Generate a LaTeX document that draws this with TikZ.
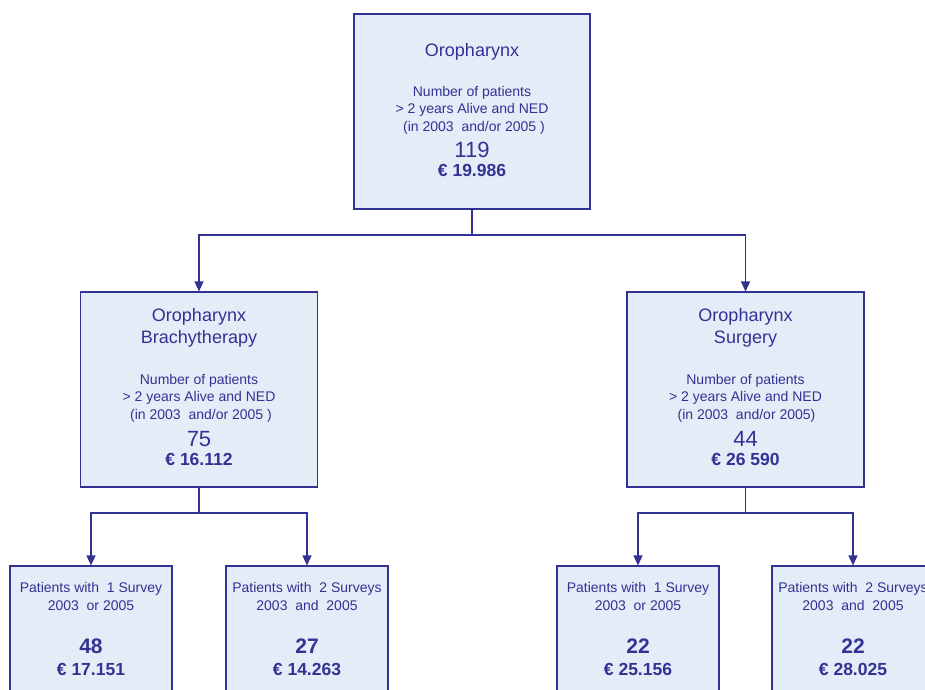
\documentclass[tikz,border=0pt]{standalone}
\usepackage{fontspec}
\setmainfont{Liberation Sans}
\usetikzlibrary{arrows.meta}
\definecolor{ink}{RGB}{50,50,148}
\definecolor{boxfill}{RGB}{228,236,247}
\tikzset{
  box/.style={draw=ink, fill=boxfill, line width=1.1pt, inner sep=0pt, rectangle},
  midbox/.style={box, minimum width=237pt, minimum height=195pt},
  lowbox/.style={box, minimum width=162pt, minimum height=150pt},
  tl/.style={anchor=base, inner sep=0pt, text=ink},
  ttl/.style={tl, font=\fontsize{18}{20}\selectfont},
  txt/.style={tl, font=\fontsize{14}{16}\selectfont},
  num/.style={tl, font=\fontsize{22}{24}\selectfont},
  bnum/.style={tl, font=\fontsize{21}{24}\selectfont\bfseries},
  eur/.style={tl, font=\fontsize{17.5}{20}\selectfont\bfseries},
  conn/.style={draw=ink, line width=1.1pt},
  arr/.style={conn, -{Triangle[length=10pt,width=9pt]}}
}
\begin{document}
\begin{tikzpicture}[x=1pt,y=-1pt]
\useasboundingbox (0,0) rectangle (925,689);
\clip (0,0) rectangle (925,689);
% boxes
\node[box, minimum width=236pt, minimum height=195pt] (top) at (472,111.5) {};
\node[midbox] (lm) at (199,389.5) {};
\node[midbox] (rm) at (745.5,389.5) {};
\node[lowbox] (b1) at (91,641) {};
\node[lowbox] (b2) at (307,641) {};
\node[lowbox] (b3) at (638,641) {};
\node[lowbox] (b4) at (853,641) {};
% connectors
\coordinate (j1) at (472,235);
\coordinate (j2) at (199,513);
\coordinate (j3) at (745.5,513);
\draw[conn] (top.south) -- (j1);
\draw[arr] (j1) -| (lm.north);
\draw[arr] (j1) -| (rm.north);
\draw[conn] (lm.south) -- (j2);
\draw[arr] (j2) -| (b1.north);
\draw[arr] (j2) -| (b2.north);
\draw[conn] (rm.south) -- (j3);
\draw[arr] (j3) -| (b3.north);
\draw[arr] (j3) -| (b4.north);
% top box text
\node[ttl] (t1) at (472,56.7) {Oropharynx};
\node[txt] (t2) at (472,96.7) {Number of patients};
\node[txt] (t3) at (472,113.5) {> 2 years Alive and NED};
\node[txt] (t4) at (474,131.5) {(in 2003 \ and/or 2005 )};
\node[num] (t5) at (472,157.7) {119};
\node[eur] (t6) at (472,176.7) {€ 19.986};
% left mid text
\node[ttl] (l1) at (199,321.7) {Oropharynx};
\node[ttl] (l2) at (199,343.3) {Brachytherapy};
\node[txt] (l3) at (199,384.3) {Number of patients};
\node[txt] (l4) at (199,401.7) {> 2 years Alive and NED};
\node[txt] (l5) at (201,419.3) {(in 2003 \ and/or 2005 )};
\node[num] (l6) at (199,446.7) {75};
\node[eur] (l7) at (199,465) {€ 16.112};
% right mid text
\node[ttl] (r1) at (745.5,321.7) {Oropharynx};
\node[ttl] (r2) at (745.5,343.3) {Surgery};
\node[txt] (r3) at (745.5,384.3) {Number of patients};
\node[txt] (r4) at (745.5,401.7) {> 2 years Alive and NED};
\node[txt] (r5) at (746.5,419.3) {(in 2003 \ and/or 2005)};
\node[num] (r6) at (745.5,446.7) {44};
\node[eur] (r7) at (745.5,465) {€ 26 590};
% bottom texts
\node[txt] (a1) at (91,592.7) {Patients with \ 1 Survey};
\node[txt] (a2) at (91,610) {2003 \ or 2005};
\node[bnum] (a3) at (91,653.3) {48};
\node[eur] (a4) at (91,675) {€ 17.151};
\node[txt] (c1) at (307,592.7) {Patients with \ 2 Surveys};
\node[txt] (c2) at (307,610) {2003 \ and \ 2005};
\node[bnum] (c3) at (307,653.3) {27};
\node[eur] (c4) at (307,675) {€ 14.263};
\node[txt] (d1) at (638,592.7) {Patients with \ 1 Survey};
\node[txt] (d2) at (638,610) {2003 \ or 2005};
\node[bnum] (d3) at (638,653.3) {22};
\node[eur] (d4) at (638,675) {€ 25.156};
\node[txt] (e1) at (853,592.7) {Patients with \ 2 Surveys};
\node[txt] (e2) at (853,610) {2003 \ and \ 2005};
\node[bnum] (e3) at (853,653.3) {22};
\node[eur] (e4) at (853,675) {€ 28.025};
\end{tikzpicture}
\end{document}
